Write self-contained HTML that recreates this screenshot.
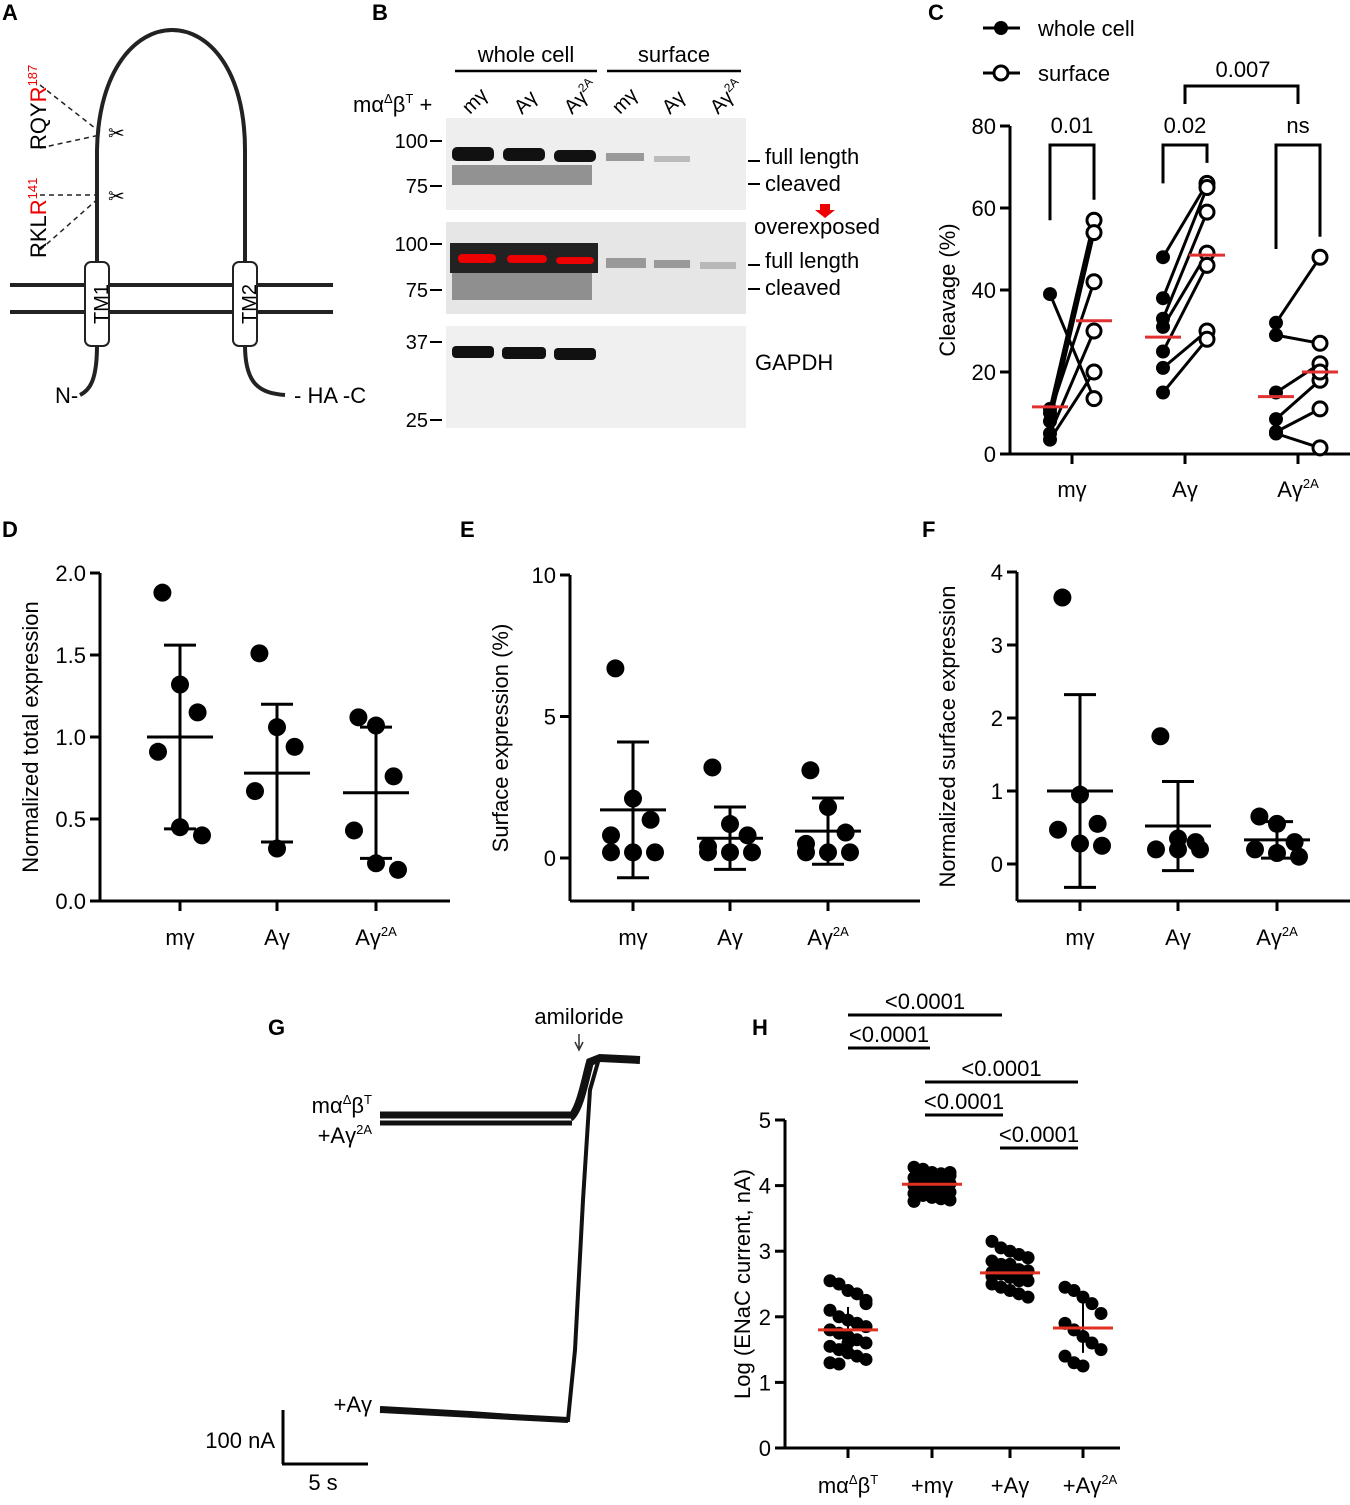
<!DOCTYPE html>
<html><head><meta charset="utf-8"><style>
body{margin:0;background:#fff}
svg text{font-family:"Liberation Sans",Arial,sans-serif;fill:#000}
</style></head><body>
<svg id="fig" width="1350" height="1500" viewBox="0 0 1350 1500" xmlns="http://www.w3.org/2000/svg">
<!-- panel letters -->
<g font-weight="bold" font-size="22">
<text x="2" y="20">A</text><text x="372" y="20">B</text><text x="928" y="20">C</text>
<text x="2" y="537">D</text><text x="460" y="537">E</text><text x="922" y="537">F</text>
<text x="268" y="1035">G</text><text x="752" y="1035">H</text></g>

<!-- Panel A diagram -->
<g stroke="#222" fill="none" stroke-width="4">
<line x1="10" y1="285" x2="333" y2="285"/><line x1="10" y1="312" x2="333" y2="312"/>
<path d="M97,265 L97,150 C100,-10 245,-10 245,150 L245,265"/>
<path d="M97,345 C97,380 90,390 80,395"/><path d="M245,345 C245,385 260,393 285,395"/>
<rect x="85" y="262" width="24" height="84" rx="6" fill="#fff" stroke-width="2"/>
<rect x="233" y="262" width="24" height="84" rx="6" fill="#fff" stroke-width="2"/>
<g stroke-width="1.5" stroke-dasharray="5,4"><line x1="40" y1="85" x2="100" y2="132"/><line x1="40" y1="148" x2="100" y2="135"/><line x1="40" y1="195" x2="100" y2="195"/><line x1="40" y1="250" x2="100" y2="197"/></g>
</g>
<g>
<text x="108" y="304" font-size="20" transform="rotate(-90 108 304)" text-anchor="middle">TM1</text>
<text x="256" y="304" font-size="20" transform="rotate(-90 256 304)" text-anchor="middle">TM2</text>
<text x="55" y="403" font-size="22">N-</text><text x="294" y="403" font-size="22">- HA -C</text>
<text transform="translate(46,150) rotate(-90)" font-size="22">RQY<tspan fill="#e00">R</tspan><tspan fill="#e00" font-size="13" dy="-9">187</tspan></text>
<text transform="translate(46,258) rotate(-90)" font-size="22">RKL<tspan fill="#e00">R</tspan><tspan fill="#e00" font-size="13" dy="-9">141</tspan></text>
<text x="108" y="140" font-size="20">✂</text><text x="108" y="203" font-size="20">✂</text>
</g>

<!-- Panel B blots -->
<g>
<rect x="446" y="118" width="300" height="92" fill="#eee"/>
<rect x="446" y="222" width="300" height="92" fill="#e6e6e6"/>
<rect x="446" y="326" width="300" height="102" fill="#f0f0f0"/>
<g fill="#111"><rect x="452" y="147" width="42" height="14" rx="5"/><rect x="503" y="148" width="42" height="13" rx="5"/><rect x="554" y="150" width="42" height="12" rx="5"/>
<rect x="452" y="346" width="42" height="12" rx="4"/><rect x="502" y="347" width="44" height="12" rx="4"/><rect x="554" y="348" width="42" height="12" rx="4"/></g>
<g fill="#555" opacity="0.6"><rect x="452" y="165" width="140" height="20"/><rect x="452" y="270" width="140" height="30"/></g>
<rect x="450" y="243" width="148" height="30" fill="#222"/>
<g fill="#e00"><rect x="458" y="254" width="38" height="9" rx="4"/><rect x="507" y="255" width="40" height="8" rx="4"/><rect x="556" y="257" width="38" height="7" rx="4"/></g>
<g fill="#999"><rect x="606" y="153" width="38" height="8"/><rect x="654" y="156" width="36" height="6" opacity="0.6"/><rect x="606" y="258" width="40" height="10"/><rect x="654" y="260" width="36" height="8"/><rect x="700" y="262" width="36" height="7" opacity="0.6"/></g>
</g>
<g font-size="22">
<text x="526" y="62" text-anchor="middle">whole cell</text><text x="674" y="62" text-anchor="middle">surface</text>
<line x1="455" y1="71" x2="597" y2="71" stroke="#000" stroke-width="2.5"/><line x1="607" y1="71" x2="741" y2="71" stroke="#000" stroke-width="2.5"/>
<text x="353" y="112">mα<tspan font-size="13" dy="-9">Δ</tspan><tspan dy="9">β</tspan><tspan font-size="13" dy="-9">T</tspan><tspan dy="9"> +</tspan></text>
<g font-size="20"><text transform="translate(470,115) rotate(-45)">mγ</text><text transform="translate(522,115) rotate(-45)">Aγ</text><text transform="translate(572,115) rotate(-45)">Aγ<tspan font-size="12" dy="-8">2A</tspan></text>
<text transform="translate(620,115) rotate(-45)">mγ</text><text transform="translate(670,115) rotate(-45)">Aγ</text><text transform="translate(718,115) rotate(-45)">Aγ<tspan font-size="12" dy="-8">2A</tspan></text></g>
<g font-size="20" text-anchor="end"><text x="428" y="148">100</text><text x="428" y="193">75</text><text x="428" y="251">100</text><text x="428" y="297">75</text><text x="428" y="349">37</text><text x="428" y="427">25</text></g>
<g stroke="#000" stroke-width="2"><line x1="430" y1="141" x2="442" y2="141"/><line x1="430" y1="186" x2="442" y2="186"/><line x1="430" y1="244" x2="442" y2="244"/><line x1="430" y1="290" x2="442" y2="290"/><line x1="430" y1="342" x2="442" y2="342"/><line x1="430" y1="420" x2="442" y2="420"/>
<line x1="748" y1="161" x2="760" y2="161"/><line x1="748" y1="184" x2="760" y2="184"/><line x1="748" y1="265" x2="760" y2="265"/><line x1="748" y1="289" x2="760" y2="289"/></g>
<text x="765" y="164">full length</text><text x="765" y="191">cleaved</text><text x="754" y="234">overexposed</text>
<path d="M820,204 L830,204 L830,210 L835,210 L825,218 L815,210 L820,210Z" fill="#e00"/>
<text x="765" y="268">full length</text><text x="765" y="295">cleaved</text><text x="755" y="370">GAPDH</text>
</g>

<g id="plots"></g>
</svg>
<script>
// ---- Panel C data ----
const cCats=["mγ","Aγ","Aγ2A"];
const cWhole=[[39,11,10,8,5,3.5],[48,38,33,31,25,21,15],[32,29,15,8.5,5.4,5]];
const cSurface=[[13.5,57,42,54,30,20],[66,65,59,49,46,30,28],[48,27,22,18,11,1.5,20]];
const cWholeMean=[11.5,28.5,14];
const cSurfaceMean=[32.5,48.5,20];
const cTicks=[0,20,40,60,80];
// ---- Panel D/E/F data ----
const dPts=[[1.88,1.32,1.15,0.91,0.45,0.40],[1.51,1.06,0.94,0.67,0.32],[1.12,1.07,0.76,0.43,0.23,0.19]];
const dMean=[1.0,0.78,0.66];const dSd=[0.56,0.42,0.40];
const dTicks=[0,0.5,1.0,1.5,2.0];
const ePts=[[6.7,2.1,1.35,0.8,0.2,0.2,0.2],[3.2,1.2,0.8,0.4,0.2,0.2,0.2],[3.1,1.8,0.9,0.5,0.2,0.2,0.2]];
const eMean=[1.7,0.7,0.95];const eSd=[2.4,1.1,1.17];
const eTicks=[0,5,10];
const fPts=[[3.65,0.95,0.55,0.47,0.28,0.25],[1.75,0.35,0.3,0.2,0.2,0.2],[0.65,0.55,0.3,0.2,0.15,0.1]];
const fMean=[1.0,0.52,0.33];const fSd=[1.32,0.61,0.25];
const fTicks=[0,1,2,3,4];
// ---- Panel H data ----
const hCats=["mα","+mγ","+Aγ","+Aγ2A"];
const hPts=[[2.55,2.5,2.4,2.35,2.2,2.1,2.0,1.95,1.9,1.85,1.8,1.75,1.7,1.65,1.6,1.55,1.5,1.45,1.4,1.35,1.3,1.28,1.6,1.9,2.25],
[4.28,4.25,4.2,4.18,4.15,4.12,4.1,4.08,4.05,4.03,4.0,3.98,3.95,3.92,3.9,3.88,3.85,3.82,3.8,3.78,3.76,4.02,4.1,3.95,4.2],
[3.15,3.05,3.0,2.95,2.9,2.85,2.8,2.75,2.72,2.7,2.68,2.65,2.6,2.58,2.55,2.5,2.45,2.4,2.35,2.3,2.62,2.7,2.8,2.55,2.9],
[2.45,2.4,2.3,2.2,2.05,1.9,1.8,1.7,1.6,1.5,1.4,1.3,1.25]];
const hMean=[1.8,4.02,2.67,1.83];const hSd=[0.35,0.14,0.22,0.38];
const hTicks=[0,1,2,3,4,5];
const NS="http://www.w3.org/2000/svg";
const root=document.getElementById('plots');
function mk(tag,at,par){const e=document.createElementNS(NS,tag);for(const k in at)e.setAttribute(k,at[k]);(par||root).appendChild(e);return e;}
function line(x1,y1,x2,y2,c,w,name){const e=mk('line',{x1,y1,x2,y2,stroke:c||'#000','stroke-width':w||3});

return e;}
function txt(x,y,s,sz,anchor,name,rot){const e=mk('text',{x,y,'font-size':sz||22,'text-anchor':anchor||'middle'});
e.textContent=s;if(rot)e.setAttribute('transform',`rotate(-90 ${x} ${y})`);

return e;}
function catLabel(x,y,c,name){const e=mk('text',{x,y,'font-size':22,'text-anchor':'middle'});
if(c.endsWith('2A')){e.textContent=c.slice(0,-2);const t=mk('tspan',{'font-size':13,dy:-9},e);t.textContent='2A';}else e.textContent=c;

}
function dot(x,y,r,open,name){const e=mk('circle',{cx:x,cy:y,r,fill:open?'#fff':'#000',stroke:'#000','stroke-width':open?3:0});

}
function yAxis(ax,ysc,ticks,top,bot,fmt,name){line(ax,top,ax,bot,'#000',3,name+'-y-axis');
ticks.forEach(t=>{line(ax-10,ysc(t),ax,ysc(t),'#000',3,name+'-tick');txt(ax-14,ysc(t)+8,fmt(t),22,'end',name+'-tick-label');});}

// Panel C
(function(){const y=v=>454-v*4.1, cx=[1072,1185,1298];
yAxis(1010,y,cTicks,126,454,t=>t,'panel-c');line(1010,454,1355,454,'#000',3,'panel-c-x-axis');
txt(955,290,'Cleavage (%)',22,'middle','panel-c-y-title',true);
cx.forEach((x,i)=>{line(x,454,x,464,'#000',3,'panel-c-x-tick');catLabel(x,497,cCats[i],'panel-c-x-label');
const xw=x-22,xs=x+22;
cWhole[i].forEach((v,j)=>{const s=cSurface[i][j];if(s!==undefined)line(xw,y(v),xs,y(s),'#000',3,'pair-line');});
cWhole[i].forEach(v=>dot(xw,y(v),7,false,'whole-cell-point'));
cSurface[i].forEach(v=>dot(xs,y(v),7,true,'surface-point'));
line(xw-18,y(cWholeMean[i]),xw+18,y(cWholeMean[i]),'#e03030',3,'whole-mean');
line(xs-18,y(cSurfaceMean[i]),xs+18,y(cSurfaceMean[i]),'#e03030',3,'surface-mean');
const p=['0.01','0.02','ns'][i];
mk('path',{d:`M${xw},${y(18+Math.max(...cWhole[i]))} V145 H${xs} V${y(5+Math.max(...cSurface[i]))}`,fill:'none',stroke:'#000','stroke-width':3});
txt(x,133,p,22,'middle','p-value');});
mk('path',{d:'M1185,104 V86 H1298 V104',fill:'none',stroke:'#000','stroke-width':3});
txt(1243,77,'0.007',22,'middle','p-value');
line(983,28,1020,28,'#000',3,'legend-line');dot(1001,28,7,false,'legend-whole-marker');txt(1038,36,'whole cell',22,'start','legend-whole');
line(983,73,1020,73,'#000',3,'legend-line');dot(1001,73,7,true,'legend-surface-marker');txt(1038,81,'surface',22,'start','legend-surface');})();

// dot plots D/E/F
function dotPanel(ax,top0,ysc,ticks,pts,mean,sd,cx,title,fmt,name,xAxisY){
yAxis(ax,ysc,ticks,ysc(ticks[ticks.length-1]),xAxisY,fmt,name);
line(ax,xAxisY,ax+350,xAxisY,'#000',3,name+'-x-axis');
txt(ax-62,(ysc(ticks[ticks.length-1])+xAxisY)/2,title,22,'middle',name+'-y-title',true);
cx.forEach((x,i)=>{line(x,xAxisY,x,xAxisY+10,'#000',3,name+'-x-tick');catLabel(x,xAxisY+44,cCats[i],name+'-x-label');
pts[i].forEach((v,j)=>dot(x+((j%3)-1)*22*(j<3?0.8:1),ysc(v),9,false,name+'-point'));
line(x,ysc(mean[i]+sd[i]),x,ysc(mean[i]-sd[i]),'#000',3,name+'-error-bar');
line(x-33,ysc(mean[i]),x+33,ysc(mean[i]),'#000',3,name+'-mean');
line(x-16,ysc(mean[i]+sd[i]),x+16,ysc(mean[i]+sd[i]),'#000',3,name+'-cap');
line(x-16,ysc(mean[i]-sd[i]),x+16,ysc(mean[i]-sd[i]),'#000',3,name+'-cap');});}
dotPanel(100,573,v=>901-v*164,dTicks,dPts,dMean,dSd,[180,277,376],'Normalized total expression',t=>t.toFixed(1),'panel-d',901);
dotPanel(570,575,v=>858-v*28.3,eTicks,ePts,eMean,eSd,[633,730,828],'Surface expression (%)',t=>t,'panel-e',901);
dotPanel(1017,572,v=>864-v*73,fTicks,fPts,fMean,fSd,[1080,1178,1277],'Normalized surface expression',t=>t,'panel-f',901);

// Panel H
(function(){const y=v=>1448-v*65.6, cx=[848,932,1010,1083];
yAxis(785,y,hTicks,1120,1448,t=>t,'panel-h');line(785,1448,1120,1448,'#000',3,'panel-h-x-axis');
txt(750,1284,'Log (ENaC current, nA)',22,'middle','panel-h-y-title',true);
cx.forEach((x,i)=>{line(x,1448,x,1458,'#000',3,'panel-h-x-tick');
hPts[i].forEach((v,j)=>dot(x+((j%5)-2)*9,y(v),6.5,false,'panel-h-point'));
line(x,y(hMean[i]+hSd[i]),x,y(hMean[i]-hSd[i]),'#000',2,'panel-h-error');
line(x-30,y(hMean[i]),x+30,y(hMean[i]),'#e03020',3,'panel-h-mean');});
const lb=mk('text',{x:848,y:1493,'font-size':22,'text-anchor':'middle'});lb.textContent='mα';
const t1=mk('tspan',{'font-size':13,dy:-9},lb);t1.textContent='Δ';const t2=mk('tspan',{dy:9},lb);t2.textContent='β';const t3=mk('tspan',{'font-size':13,dy:-9},lb);t3.textContent='T';


catLabel(932,1493,'+mγ','panel-h-x-label');catLabel(1010,1493,'+Aγ','panel-h-x-label');catLabel(1090,1493,'+Aγ2A','panel-h-x-label');
[[848,1002,1015,'<0.0001'],[848,930,1048,'<0.0001'],[925,1078,1082,'<0.0001'],[925,1003,1115,'<0.0001'],[1000,1078,1148,'<0.0001']].forEach(b=>{
line(b[0],b[2],b[1],b[2],'#000',3,'sig-bracket');txt((b[0]+b[1])/2,b[2]-6,b[3],22,'middle','sig-label');});})();

// Panel G traces
(function(){
line(380,1115,570,1115,'#111',7,'trace-a-gamma-2a');line(380,1123,572,1123,'#111',5,'trace-a-gamma-2a-2');
mk('path',{d:'M570,1118 C580,1110 585,1080 590,1062 L600,1058 L640,1060',fill:'none',stroke:'#111','stroke-width':8});
mk('path',{d:'M380,1408 L470,1413 L568,1420 L575,1350 L583,1200 L590,1090 L598,1062',fill:'none',stroke:'#111','stroke-width':4});
line(380,1410,568,1420,'#111',6,'trace-a-gamma');
txt(579,1024,'amiloride',22,'middle','amiloride-label');
mk('path',{d:'M579,1034 V1048 M575,1042 L579,1050 L583,1042',fill:'none',stroke:'#333','stroke-width':1.5});
const g=mk('text',{x:372,y:1113,'font-size':22,'text-anchor':'end'});g.textContent='mα';
const a=mk('tspan',{'font-size':13,dy:-9},g);a.textContent='Δ';const b=mk('tspan',{dy:9},g);b.textContent='β';const c=mk('tspan',{'font-size':13,dy:-9},g);c.textContent='T';


const g2=mk('text',{x:372,y:1143,'font-size':22,'text-anchor':'end'});g2.textContent='+Aγ';const s=mk('tspan',{'font-size':13,dy:-9},g2);s.textContent='2A';


txt(372,1412,'+Aγ',22,'end','trace-label');
line(283,1410,283,1464,'#000',3,'scale-bar-y');line(282,1464,368,1464,'#000',3,'scale-bar-x');
txt(275,1448,'100 nA',22,'end','scale-y-label');txt(323,1490,'5 s',22,'middle','scale-x-label');})();
</script>
</body></html>
